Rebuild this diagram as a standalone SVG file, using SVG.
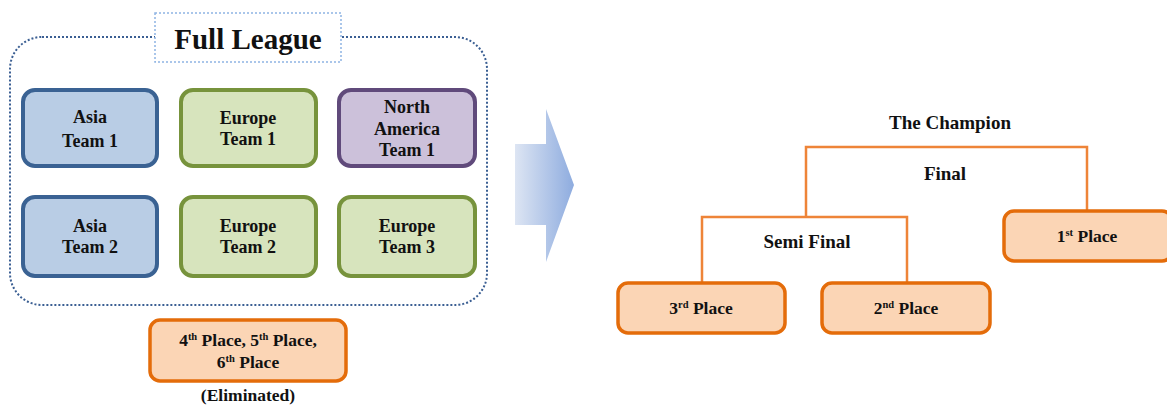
<svg xmlns="http://www.w3.org/2000/svg" width="1167" height="408" viewBox="0 0 1167 408">
  <defs>
    <linearGradient id="arrowFill" gradientUnits="userSpaceOnUse" x1="515" y1="0" x2="574" y2="0">
      <stop offset="0" stop-color="#DDE5F3"/>
      <stop offset="1" stop-color="#8EACDF"/>
    </linearGradient>
    <style>
      text { font-family: "Liberation Serif", "Times New Roman", serif; font-weight: bold; fill: #111; text-anchor: middle; }
      .team { font-size: 18px; }
      .place { font-size: 17.5px; }
      .stage { font-size: 19px; }
      .sup { font-size: 10.5px; }
      .asia { fill: #B9CDE5; stroke: #3A6293; stroke-width: 4; }
      .europe { fill: #D7E4BD; stroke: #77933C; stroke-width: 4; }
      .na { fill: #CCC1DA; stroke: #604A7B; stroke-width: 4; }
      .rank { fill: #FBD5B5; stroke: #E46C0A; stroke-width: 3.5; }
      .link { fill: none; stroke: #EE8438; stroke-width: 2.5; }
    </style>
  </defs>

  <!-- league group frame -->
  <g id="league">
    <rect x="10" y="37" width="477" height="268" rx="32" fill="none" stroke="#3B5F93" stroke-width="2" stroke-dasharray="2 2"/>
    <rect x="155" y="13" width="186" height="49" fill="#FFFFFF" stroke="#8EB4E3" stroke-width="1.5" stroke-dasharray="2 2"/>
    <text x="248" y="49" style="font-size:29px">Full League</text>
  </g>

  <g id="asia1">
    <rect class="asia" x="23" y="90" width="134" height="76" rx="12"/>
    <text class="team" x="90" y="123">Asia</text>
    <text class="team" x="90" y="147">Team 1</text>
  </g>
  <g id="europe1">
    <rect class="europe" x="181" y="90" width="135" height="76" rx="12"/>
    <text class="team" x="248" y="124">Europe</text>
    <text class="team" x="248" y="145">Team 1</text>
  </g>
  <g id="northamerica1">
    <rect class="na" x="339" y="90" width="136" height="76" rx="12"/>
    <text class="team" x="407" y="113">North</text>
    <text class="team" x="407" y="135">America</text>
    <text class="team" x="407" y="156">Team 1</text>
  </g>
  <g id="asia2">
    <rect class="asia" x="23" y="197" width="134" height="79" rx="12"/>
    <text class="team" x="90" y="232">Asia</text>
    <text class="team" x="90" y="253">Team 2</text>
  </g>
  <g id="europe2">
    <rect class="europe" x="181" y="197" width="135" height="79" rx="12"/>
    <text class="team" x="248" y="232">Europe</text>
    <text class="team" x="248" y="253">Team 2</text>
  </g>
  <g id="europe3">
    <rect class="europe" x="339" y="197" width="136" height="79" rx="12"/>
    <text class="team" x="407" y="232">Europe</text>
    <text class="team" x="407" y="253">Team 3</text>
  </g>

  <g id="eliminated">
    <rect class="rank" x="150" y="320" width="196" height="61" rx="10"/>
    <text class="place" x="248" y="346">4<tspan class="sup" dy="-6">th</tspan><tspan dy="6"> Place, 5</tspan><tspan class="sup" dy="-6">th</tspan><tspan dy="6"> Place,</tspan></text>
    <text class="place" x="248" y="368">6<tspan class="sup" dy="-6">th</tspan><tspan dy="6"> Place</tspan></text>
    <text class="place" x="248" y="401">(Eliminated)</text>
  </g>

  <!-- block arrow between the two stages -->
  <g id="arrow">
    <polygon points="515,144 546,144 546,109 574,185 546,262 546,225 515,225" fill="url(#arrowFill)"/>
  </g>

  <!-- bracket lines -->
  <g id="connectors">
    <polyline class="link" points="806,217 806,147 1087,147 1087,210"/>
    <polyline class="link" points="702,282 702,217 907,217 907,282"/>
  </g>

  <g id="labels">
    <text class="stage" x="950" y="129">The Champion</text>
    <text class="stage" x="945" y="180">Final</text>
    <text class="stage" x="807" y="248">Semi Final</text>
  </g>

  <g id="first">
    <rect class="rank" x="1004" y="211" width="168" height="50" rx="10"/>
    <text class="place" x="1087" y="242">1<tspan class="sup" dy="-6">st</tspan><tspan dy="6"> Place</tspan></text>
  </g>
  <g id="third">
    <rect class="rank" x="618" y="283" width="167" height="50" rx="10"/>
    <text class="place" x="701" y="314">3<tspan class="sup" dy="-6">rd</tspan><tspan dy="6"> Place</tspan></text>
  </g>
  <g id="second">
    <rect class="rank" x="822" y="283" width="168" height="50" rx="10"/>
    <text class="place" x="906" y="314">2<tspan class="sup" dy="-6">nd</tspan><tspan dy="6"> Place</tspan></text>
  </g>
</svg>
